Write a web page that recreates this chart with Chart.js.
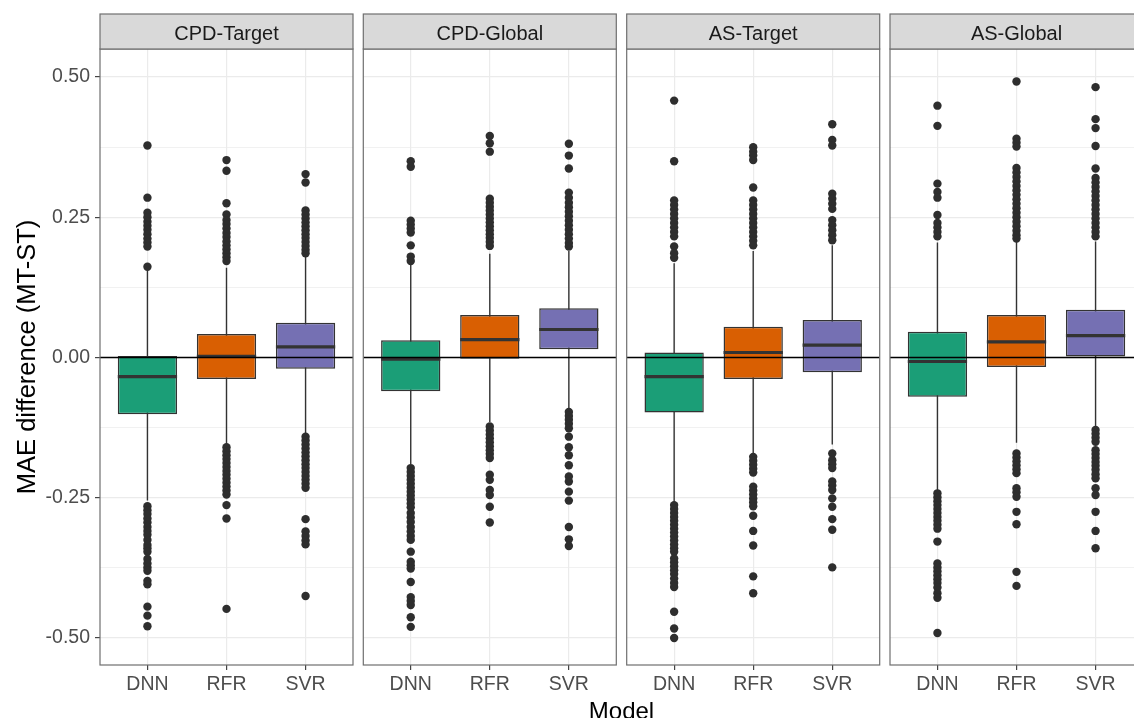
<!DOCTYPE html>
<html><head><meta charset="utf-8">
<script src="https://cdn.jsdelivr.net/npm/chart.js@4.4.1/dist/chart.umd.min.js"></script>
<style>
html,body{margin:0;padding:0;background:#fff;overflow:hidden;}
#wrap{position:relative;width:1134px;height:718px;overflow:hidden;background:#fff;}
#wrap canvas{position:absolute;left:0;top:0;}
</style></head><body><div id="wrap"></div>
<script>
// ---------- data ----------
const facets = ['CPD-Target', 'CPD-Global', 'AS-Target', 'AS-Global'];
const models = ['DNN', 'RFR', 'SVR'];
const modelColors = ['#1b9e77', '#d95f02', '#7570b3'];
const yTicks = [-0.5, -0.25, 0, 0.25, 0.5];
const yMinorTicks = [-0.375, -0.125, 0.125, 0.375];
const zeroLine = 0;

// per facet: [DNN, RFR, SVR]
const lowerWhisker = [[-0.255, -0.155, -0.135], [-0.19, -0.115, -0.09], [-0.258, -0.172, -0.155], [-0.237, -0.152, -0.125]];
const q1 =           [[-0.101, -0.038, -0.020], [-0.060, -0.002, 0.015], [-0.098, -0.038, -0.026], [-0.070, -0.017, 0.002]];
const median =       [[-0.034, 0.002, 0.019],   [-0.003, 0.032, 0.050],  [-0.034, 0.009, 0.022],   [-0.007, 0.028, 0.039]];
const q3 =           [[0.003, 0.042, 0.062],    [0.031, 0.076, 0.088],   [0.009, 0.055, 0.067],    [0.046, 0.076, 0.085]];
const upperWhisker = [[0.155, 0.16, 0.18],      [0.165, 0.185, 0.19],    [0.168, 0.19, 0.2],       [0.205, 0.207, 0.207]];

const outliersCPDTarget = [
  [0.378, 0.285, 0.258, 0.25, 0.242, 0.235, 0.228, 0.22, 0.212, 0.205, 0.198, 0.162, -0.265, -0.272, -0.279, -0.287, -0.294, -0.302, -0.309, -0.316, -0.325, -0.334, -0.340, -0.346, -0.359, -0.367, -0.374, -0.380, -0.398, -0.404, -0.444, -0.460, -0.479],
  [0.352, 0.333, 0.275, 0.255, 0.245, 0.238, 0.23, 0.222, 0.215, 0.207, 0.2, 0.193, 0.186, 0.179, 0.172, -0.16, -0.167, -0.174, -0.181, -0.188, -0.195, -0.202, -0.209, -0.216, -0.223, -0.23, -0.237, -0.244, -0.263, -0.287, -0.448],
  [0.327, 0.312, 0.262, 0.255, 0.248, 0.241, 0.234, 0.227, 0.22, 0.213, 0.206, 0.199, 0.192, 0.186, -0.141, -0.148, -0.155, -0.162, -0.169, -0.176, -0.183, -0.19, -0.197, -0.204, -0.211, -0.218, -0.225, -0.232, -0.288, -0.31, -0.318, -0.326, -0.333, -0.425]
];
const outliersCPDGlobal = [
  [0.35, 0.34, 0.244, 0.237, 0.23, 0.223, 0.2, 0.18, 0.172, -0.197, -0.204, -0.211, -0.218, -0.225, -0.232, -0.239, -0.246, -0.253, -0.26, -0.267, -0.277, -0.285, -0.293, -0.302, -0.31, -0.318, -0.325, -0.346, -0.364, -0.37, -0.376, -0.40, -0.427, -0.434, -0.441, -0.463, -0.48],
  [0.395, 0.382, 0.367, 0.283, 0.276, 0.269, 0.262, 0.255, 0.248, 0.241, 0.234, 0.227, 0.22, 0.213, 0.206, 0.199, -0.123, -0.13, -0.137, -0.144, -0.151, -0.158, -0.165, -0.172, -0.179, -0.209, -0.218, -0.236, -0.245, -0.266, -0.294],
  [0.381, 0.36, 0.337, 0.294, 0.285, 0.276, 0.268, 0.26, 0.252, 0.244, 0.236, 0.228, 0.22, 0.212, 0.204, 0.198, -0.097, -0.104, -0.111, -0.118, -0.126, -0.141, -0.16, -0.174, -0.192, -0.212, -0.221, -0.239, -0.255, -0.302, -0.324, -0.336]
];
const outliersASTarget = [
  [0.458, 0.35, 0.28, 0.272, 0.264, 0.256, 0.248, 0.24, 0.232, 0.224, 0.216, 0.198, 0.186, 0.178, -0.263, -0.27, -0.277, -0.284, -0.291, -0.298, -0.305, -0.312, -0.319, -0.326, -0.333, -0.34, -0.346, -0.358, -0.365, -0.372, -0.379, -0.386, -0.394, -0.402, -0.409, -0.453, -0.483, -0.5],
  [0.375, 0.367, 0.36, 0.352, 0.303, 0.28, 0.272, 0.264, 0.256, 0.248, 0.24, 0.232, 0.224, 0.216, 0.208, 0.2, -0.177, -0.184, -0.191, -0.198, -0.205, -0.23, -0.237, -0.244, -0.251, -0.258, -0.265, -0.282, -0.309, -0.335, -0.39, -0.42],
  [0.416, 0.388, 0.378, 0.292, 0.283, 0.274, 0.265, 0.245, 0.236, 0.227, 0.218, 0.209, -0.171, -0.183, -0.19, -0.197, -0.221, -0.228, -0.236, -0.251, -0.266, -0.288, -0.307, -0.374]
];
const outliersASGlobal = [
  [0.449, 0.413, 0.31, 0.295, 0.285, 0.254, 0.24, 0.232, 0.224, 0.216, -0.242, -0.249, -0.256, -0.263, -0.27, -0.277, -0.284, -0.291, -0.298, -0.305, -0.328, -0.367, -0.374, -0.381, -0.388, -0.395, -0.402, -0.41, -0.42, -0.428, -0.491],
  [0.492, 0.39, 0.383, 0.376, 0.338, 0.33, 0.322, 0.314, 0.306, 0.298, 0.29, 0.282, 0.274, 0.266, 0.258, 0.25, 0.242, 0.234, 0.226, 0.218, 0.212, -0.171, -0.178, -0.185, -0.192, -0.199, -0.206, -0.233, -0.24, -0.248, -0.275, -0.297, -0.382, -0.407],
  [0.482, 0.425, 0.409, 0.377, 0.337, 0.32, 0.312, 0.304, 0.296, 0.288, 0.28, 0.272, 0.264, 0.256, 0.248, 0.24, 0.232, 0.224, 0.216, -0.129, -0.136, -0.143, -0.15, -0.165, -0.172, -0.179, -0.186, -0.193, -0.2, -0.208, -0.215, -0.233, -0.245, -0.275, -0.309, -0.34]
];
const outlierSets = [outliersCPDTarget, outliersCPDGlobal, outliersASTarget, outliersASGlobal];

// ---------- layout ----------
const FONT = '"Liberation Sans", Arial, Helvetica, sans-serif';
const CW = 1150, CH = 718;
const panelLeft = [100, 363.3, 626.7, 890];
const panelWidth = 253;
const plotTop = 49, plotBottom = 665, stripTop = 14;
const yMin = -0.548, yMax = 0.55;
const xMin = -0.6, xMax = 2.6;
const boxHalf = 0.375;
const allYGrid = [...yTicks, ...yMinorTicks].sort((a, b) => a - b);
const isMajor = v => yTicks.some(t => Math.abs(t - v) < 1e-9);

const panelPlugin = {
  id: 'panelDeco',
  afterDraw(chart, args, opts) {
    const { ctx, chartArea: a } = chart;
    ctx.save();
    ctx.strokeStyle = '#6f6f6f';
    ctx.lineWidth = 1.2;
    ctx.strokeRect(a.left, a.top, a.right - a.left, a.bottom - a.top);
    ctx.fillStyle = '#d9d9d9';
    ctx.fillRect(a.left, stripTop, a.right - a.left, a.top - stripTop);
    ctx.strokeRect(a.left, stripTop, a.right - a.left, a.top - stripTop);
    ctx.fillStyle = '#1a1a1a';
    ctx.font = '20px ' + FONT;
    ctx.textAlign = 'center';
    ctx.textBaseline = 'alphabetic';
    ctx.fillText(opts.label, (a.left + a.right) / 2, 39.5);
    if (opts.xTitle) {
      ctx.fillStyle = '#000';
      ctx.font = '24px ' + FONT;
      ctx.fillText(opts.xTitle, (panelLeft[0] + panelLeft[3] + panelWidth) / 2, 719);
    }
    ctx.restore();
  }
};

const wrap = document.getElementById('wrap');

function makeChart(fi) {
  const canvas = document.createElement('canvas');
  canvas.width = CW; canvas.height = CH;
  canvas.style.width = CW + 'px'; canvas.style.height = CH + 'px';
  wrap.appendChild(canvas);
  const L = panelLeft[fi], R = L + panelWidth;
  const first = fi === 0, last = fi === facets.length - 1;

  const boxData = models.map((m, i) => ({ x: i, y: [q1[fi][i], q3[fi][i]] }));
  const whiskerData = [];
  const medianData = [];
  const outlierData = [];
  models.forEach((m, i) => {
    whiskerData.push({ x: i, y: lowerWhisker[fi][i] }, { x: i, y: upperWhisker[fi][i] }, { x: i + 0.5, y: null });
    medianData.push({ x: i - boxHalf, y: median[fi][i] }, { x: i + boxHalf, y: median[fi][i] }, { x: i + 0.5, y: null });
    outlierSets[fi][i].forEach(v => outlierData.push({ x: i, y: v }));
  });

  new Chart(canvas, {
    type: 'bar',
    data: {
      datasets: [
        { type: 'line', data: whiskerData, borderColor: '#333333', borderWidth: 1.4, pointRadius: 0, spanGaps: false, fill: false, tension: 0, order: 5 },
        { type: 'bar', data: boxData, backgroundColor: modelColors, borderColor: '#333333', borderWidth: 1.5, borderSkipped: false, barPercentage: 1, categoryPercentage: 0.75, grouped: false, order: 4 },
        { type: 'line', data: medianData, borderColor: '#333333', borderWidth: 3.2, pointRadius: 0, spanGaps: false, fill: false, tension: 0, order: 3 },
        { type: 'scatter', data: outlierData, pointRadius: 4.2, pointBackgroundColor: '#2e2e2e', pointBorderWidth: 0, order: 2 },
        { type: 'line', data: [{ x: xMin, y: zeroLine }, { x: xMax, y: zeroLine }], borderColor: '#000000', borderWidth: 1.6, pointRadius: 0, fill: false, order: 1 }
      ]
    },
    options: {
      responsive: false, animation: false, events: [],
      layout: { padding: { left: 0, right: CW - R, top: plotTop, bottom: 0 } },
      plugins: {
        legend: { display: false }, tooltip: { enabled: false }, title: { display: false },
        panelDeco: { label: facets[fi], xTitle: last ? 'Model' : null }
      },
      scales: {
        x: {
          type: 'linear', min: xMin, max: xMax, offset: false,
          afterBuildTicks: s => { s.ticks = models.map((m, i) => ({ value: i })); },
          afterFit: s => { s.height = CH - plotBottom; },
          grid: { offset: false, color: '#ebebeb', lineWidth: 1.2, drawTicks: true, tickLength: 5, tickColor: '#444', tickWidth: 1.2 },
          border: { display: false },
          ticks: { callback: v => models[v] ?? '', color: '#4d4d4d', font: { family: FONT, size: 19.5 }, padding: 3, maxRotation: 0, autoSkip: false }
        },
        y: {
          type: 'linear', min: yMin, max: yMax,
          afterBuildTicks: s => { s.ticks = allYGrid.map(v => ({ value: v })); },
          afterFit: s => { s.width = L; },
          grid: {
            color: '#ebebeb',
            lineWidth: c => isMajor(c.tick.value) ? 1.2 : 0.7,
            drawTicks: first, tickLength: 5, tickWidth: 1.2,
            tickColor: c => isMajor(c.tick.value) ? '#444' : 'rgba(0,0,0,0)'
          },
          border: { display: false },
          ticks: {
            display: first, autoSkip: false, padding: 5,
            callback: v => isMajor(v) ? v.toFixed(2) : '',
            color: '#4d4d4d', font: { family: FONT, size: 19.5 }
          },
          title: { display: first, text: 'MAE difference (MT-ST)', color: '#000', font: { family: FONT, size: 25.5 }, padding: { top: 13, bottom: 0 } }
        }
      }
    },
    plugins: [panelPlugin]
  });
}

facets.forEach((f, i) => makeChart(i));
</script>
</body></html>
